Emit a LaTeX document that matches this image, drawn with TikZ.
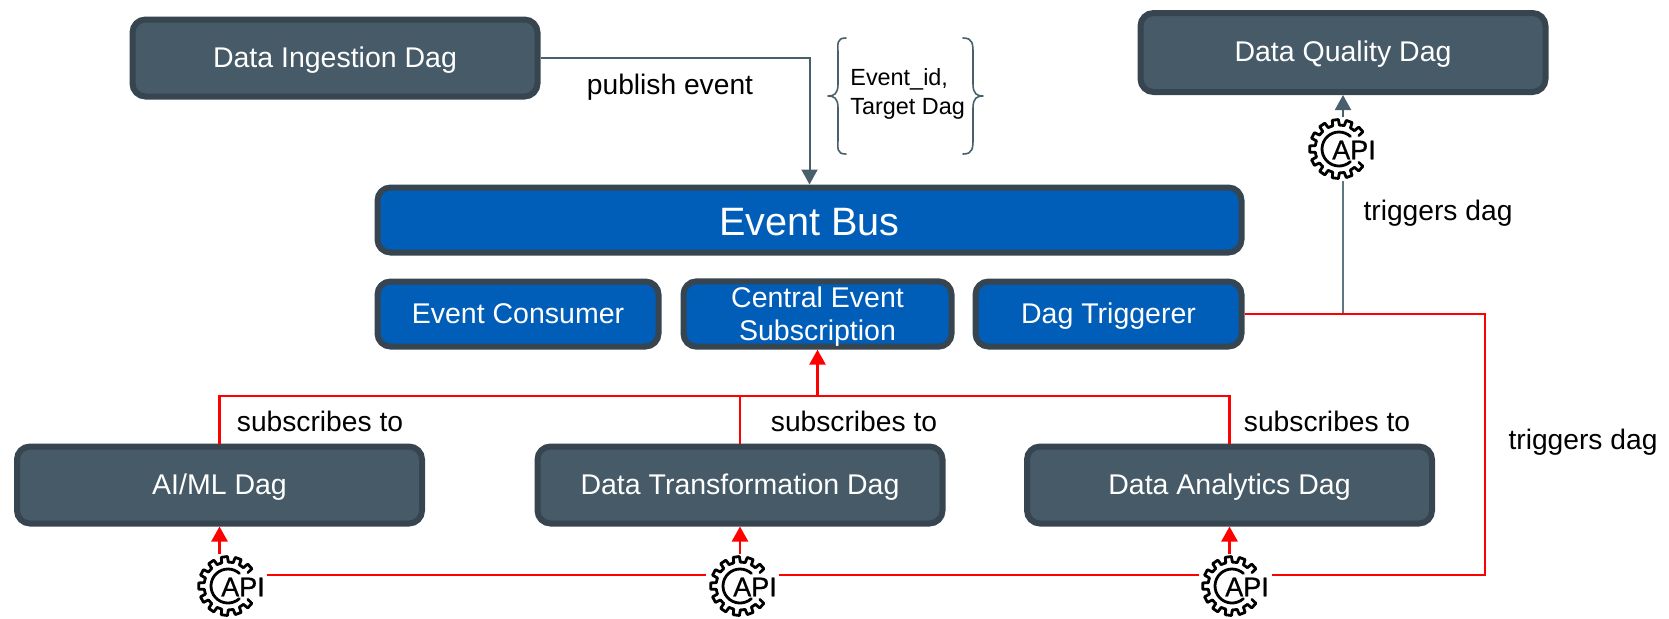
\documentclass[tikz,border=0pt]{standalone}
\usepackage{fontspec}
\setmainfont{Liberation Sans}
\newfontfamily\apifont[FakeBold=0.6]{Liberation Sans}
\usetikzlibrary{arrows.meta}
\definecolor{slatefill}{HTML}{465A68}
\definecolor{slateedge}{HTML}{36454F}
\definecolor{busblue}{HTML}{005EB8}
\definecolor{wire}{HTML}{4A5F6C}
\definecolor{wirelight}{HTML}{60767F}
\definecolor{hotred}{HTML}{FF0000}
\tikzset{
  x=.5pt,y=-.5pt,
  anybox/.style={draw=slateedge,line width=3pt,rounded corners=6.5pt,text=white,align=center,inner sep=0pt,font=\fontsize{14.25}{14.5}\selectfont},
  oneline/.style={text height=9.4pt,text depth=.4pt},
  dagbox/.style={anybox,oneline,fill=slatefill,minimum width=202.5pt,minimum height=38.5pt},
  bluebox/.style={anybox,fill=busblue,minimum height=32.5pt},
  lbl/.style={text=black,font=\fontsize{14.1}{17}\selectfont,inner sep=0pt,anchor=base},
  greyline/.style={draw=wire,line width=1pt},
  greyarrow/.style={greyline,-{Triangle[length=7.5pt,width=8pt]}},
  redline/.style={draw=hotred,line width=1.3pt},
  redarrow/.style={redline,-{Triangle[length=7.5pt,width=8pt]}},
  gearspot/.style={circle,minimum size=32pt,inner sep=0pt},
  apitext/.style={inner sep=0pt,font=\apifont\fontsize{13.5}{13.5}\selectfont},
  gearline/.style={line width=1.4pt,line join=round,line cap=round},
  bracestyle/.style={draw=wire,line width=.8pt,line join=round,line cap=round},
}
\newcommand{\apigear}[3]{%
  \node[gearspot] (#1) at (#2,#3) {};
  \node[apitext] (#1t) at (#2+15,#3+1) {API};
  \begin{scope}[shift={(#2,#3)}]
    \draw[gearline] (48:17) arc[start angle=48,end angle=312,radius=17];
    \foreach \k in {0,...,10}{
      \pgfmathsetmacro{\a}{42+27.6*\k}
      \draw[gearline] (\a-8:24) -- (\a-6:29.5) -- (\a+6:29.5) -- (\a+8:24);
    }
    \foreach \k in {0,...,9}{
      \pgfmathsetmacro{\a}{55.8+27.6*\k}
      \draw[gearline] (\a-5.8:24) -- (\a+5.8:24);
    }
  \end{scope}
}
\begin{document}
\begin{tikzpicture}
\useasboundingbox (0,0) rectangle (1669,618);
\node[dagbox] (ing) at (335,58) {Data Ingestion Dag};
\node[dagbox,minimum height=39.5pt] (dq) at (1343,52.5) {Data Quality Dag};
\node[bluebox,minimum width=432pt,text height=15.5pt,text depth=.5pt,font=\fontsize{19.8}{22}\selectfont] (bus) at (809.5,220) {Event Bus};
\node[bluebox,oneline,minimum width=140.5pt] (cons) at (518,314) {Event Consumer};
\node[bluebox,minimum width=134pt,font=\fontsize{14.25}{16.5}\selectfont] (ces) at (817.5,314) {\rule{0pt}{13.2pt}Central Event\\Subscription};
\node[bluebox,oneline,minimum width=133pt] (dt) at (1108.5,314) {Dag Triggerer};
\node[dagbox] (ai) at (219.5,485) {AI/ML Dag};
\node[dagbox] (tf) at (740,485) {Data Transformation Dag};
\node[dagbox] (da) at (1229.5,485) {Data Analytics Dag};

\apigear{g0}{1339}{149}
\apigear{g1}{228}{586}
\apigear{g2}{740}{586}
\apigear{g3}{1232}{586}

\coordinate (hub) at (817.5,396);
\coordinate (tap) at (1343,314);
\coordinate (corner) at (1485,575);
\coordinate (a1) at (267,575);
\coordinate (a2) at (706,575);
\coordinate (b1) at (779,575);
\coordinate (b2) at (1199,575);
\coordinate (c1) at (1272,575);

\draw[greyarrow] (ing.east) -| (bus.north);
\draw[greyarrow] (g0.north -| dq.south) -- (dq.south);
\draw[draw=wirelight,line width=1pt] (tap) -- (g0.south -| tap);

\draw[redline] (ai.north) |- (hub);
\draw[redline] (da.north) |- (hub);
\draw[redline] (tf.north) -- (tf.north |- hub);
\draw[redarrow] (hub) -- (ces.south);

\draw[redline] (dt.east) -| (corner) -- (c1);
\draw[redline] (b2) -- (b1);
\draw[redline] (a2) -- (a1);
\draw[redarrow] (g1.north -| ai.south) -- (ai.south);
\draw[redarrow] (g2.north -| tf.south) -- (tf.south);
\draw[redarrow] (g3.north -| da.south) -- (da.south);

\node[lbl] (pub) at (670,94) {publish event};
\node[lbl] (trg1) at (1438,220) {triggers dag};
\node[lbl] (trg2) at (1583,449) {triggers dag};
\node[lbl] (sub1) at (320,431) {subscribes to};
\node[lbl] (sub2) at (854,431) {subscribes to};
\node[lbl] (sub3) at (1327,431) {subscribes to};
\node[lbl,anchor=west,font=\fontsize{11.7}{14.8}\selectfont,align=left] (pay) at (850,94) {Event\_id,\\Target Dag};

\draw[bracestyle] (846,38) .. controls (836,38) and (838,44) .. (838,54) -- (838,84) .. controls (838,94) and (834,96) .. (828,96) .. controls (834,96) and (838,98) .. (838,108) -- (838,138) .. controls (838,148) and (836,154) .. (846,154);
\draw[bracestyle] (963,38) .. controls (973,38) and (973,44) .. (973,54) -- (973,84) .. controls (973,94) and (977,96) .. (983,96) .. controls (977,96) and (973,98) .. (973,108) -- (973,138) .. controls (973,148) and (973,154) .. (963,154);
\end{tikzpicture}
\end{document}
